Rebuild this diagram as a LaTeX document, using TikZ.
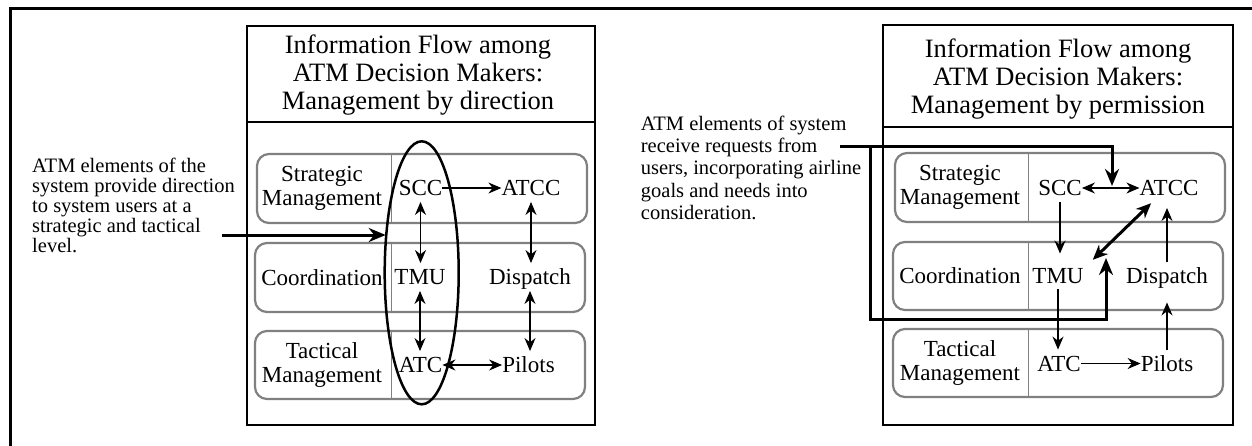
\documentclass[tikz,border=0pt]{standalone}
\usepackage{fontspec}
\setmainfont{Liberation Serif}
\usetikzlibrary{arrows.meta,shapes.geometric,calc}
\definecolor{rowgray}{RGB}{128,128,128}
\begin{document}
\begin{tikzpicture}[x=1pt,y=-1pt,
  panel/.style={draw=black, line width=1.2pt},
  rowbox/.style={draw=rowgray, line width=2.2pt, rounded corners=12pt},
  rowdiv/.style={draw=rowgray, line width=1pt},
  ttl/.style={font=\fontsize{26.5}{28}\selectfont, align=center, inner sep=0pt, anchor=base},
  lvl/.style={font=\fontsize{23}{24}\selectfont, align=center, inner sep=0pt},
  act/.style={font=\fontsize{23}{24}\selectfont, inner xsep=0pt, inner ysep=6pt, text height=15.5pt, text depth=0pt},
  notea/.style={font=\fontsize{20.5}{20}\selectfont, align=left, inner sep=0pt, anchor=base west},
  noteb/.style={font=\fontsize{20.5}{22.2}\selectfont, align=left, inner sep=0pt, anchor=base west},
  arr/.style={line width=1.2pt, -{Stealth[length=13pt,width=11pt]}},
  arrtwo/.style={line width=1.2pt, {Stealth[length=13pt,width=11pt]}-{Stealth[length=13pt,width=11pt]}},
  bigarr/.style={line width=3pt, -{Stealth[length=17pt,width=14pt]}},
  bigarrtwo/.style={line width=3pt, {Stealth[length=15pt,width=13pt]}-{Stealth[length=15pt,width=13pt]}}
]
\useasboundingbox (0,0) rectangle (1252,445);
\fill[white] (0,0) rectangle (1252,445);
% outer frame
\draw[line width=3pt] (10.5,450) -- (10.5,8.5) -- (1260,8.5);

% ---------------- left panel ----------------
\draw[panel] (247,26) rectangle (595,425);
\draw[panel] (247,122) -- (596,122);
\node[ttl] (ltitle) at (418,109) {Information Flow among\\ATM Decision Makers:\\Management by direction};

\draw[rowbox] (257,154) rectangle (587,223);
\draw[rowbox] (255,243) rectangle (585,312);
\draw[rowbox] (255,331) rectangle (585,399);
\draw[rowdiv] (391,154) -- (391,223);
\draw[rowdiv] (391,243) -- (391,312);
\draw[rowdiv] (391,331) -- (391,399);

\node[lvl] (lstrat) at (322,188.5) {Strategic\\Management};
\node[lvl] (lcoord) at (322,277.5) {Coordination};
\node[lvl] (ltact) at (322,365) {Tactical\\Management};

\node[act] (lSCC) at (420.5,188) {SCC};
\node[act] (lATCC) at (531,188) {ATCC};
\node[act] (lTMU) at (420,277) {TMU};
\node[act] (lDisp) at (530,277) {Dispatch};
\node[act] (lATC) at (420.5,365) {ATC};
\node[act] (lPil) at (528.5,365) {Pilots};

\draw[arr] (lSCC.east) -- (lATCC.west);
\draw[arrtwo] (lSCC.south) -- (lSCC.south |- lTMU.north);
\draw[arrtwo] (lTMU.south) -- (lTMU.south |- lATC.north);
\draw[arrtwo] (lATCC.south) -- (lATCC.south |- lDisp.north);
\draw[arrtwo] (lDisp.south) -- (lDisp.south |- lPil.north);
\draw[arrtwo] (lATC.east) -- (lPil.west);

\node[draw, ellipse, line width=2.5pt, minimum width=74pt, minimum height=263pt, inner sep=0pt] (ell) at (421.7,272.8) {};

\node[notea] (dirnote) at (32,252.5) {ATM elements of the\\system provide direction\\to system users at a\\strategic and tactical\\level.};
\coordinate (dirfrom) at (222,235);
\coordinate (dirto) at ($(ell.center)+(-36,-37.8)$);
\draw[bigarr] (dirfrom) -- (dirto);

% ---------------- right panel ----------------
\draw[panel] (883,25) rectangle (1233,425);
\draw[panel] (883,127) -- (1233,127);
\node[ttl] (rtitle) at (1058,113) {Information Flow among\\ATM Decision Makers:\\Management by permission};

\draw[rowbox] (895,153) rectangle (1225,222);
\draw[rowbox] (893,242) rectangle (1223,310);
\draw[rowbox] (893,329) rectangle (1223,397);
\draw[rowdiv] (1028,153) -- (1028,222);
\draw[rowdiv] (1028,242) -- (1028,310);
\draw[rowdiv] (1028,329) -- (1028,397);

\node[lvl] (rstrat) at (960,187.5) {Strategic\\Management};
\node[lvl] (rcoord) at (960,276) {Coordination};
\node[lvl] (rtact) at (960,363) {Tactical\\Management};

\node[act] (rSCC) at (1060,188) {SCC};
\node[act] (rATCC) at (1169,188) {ATCC};
\node[act] (rTMU) at (1058,275.5) {TMU};
\node[act] (rDisp) at (1167,275.5) {Dispatch};
\node[act] (rATC) at (1059,363.5) {ATC};
\node[act] (rPil) at (1167,363.5) {Pilots};

\draw[arrtwo] (rSCC.east) -- (rATCC.west);
\draw[arr, shorten >=8pt] (rSCC.south) -- (rSCC.south |- rTMU.north);
\draw[arr] (rTMU.south) -- (rTMU.south |- rATC.north);
\draw[arr] (rATC.east) -- (rPil.west);
\draw[arr, shorten >=13pt] (rPil.north) -- (rPil.north |- rDisp.south);
\draw[arr, shorten >=6pt] (rDisp.north) -- (rDisp.north |- rATCC.south);
\draw[bigarrtwo] ($(rTMU.north east)+(9,-1.75)$) -- ($(rATCC.south west)+(11.7,1.25)$);

\node[noteb] (reqnote) at (640.7,219.3) {ATM elements of system\\receive requests from\\users, incorporating airline\\goals and needs into\\consideration.};
\coordinate (reqfrom) at (840,146.7);
\coordinate (reqjoin) at (870,146.7);
\coordinate (reqtop) at (1112,186);
\coordinate (reqbot) at (1106,258);
\draw[bigarr] (reqfrom) -| (reqtop);
\draw[bigarr] (reqjoin) |- (1106,319) -- (reqbot);
\end{tikzpicture}
\end{document}
